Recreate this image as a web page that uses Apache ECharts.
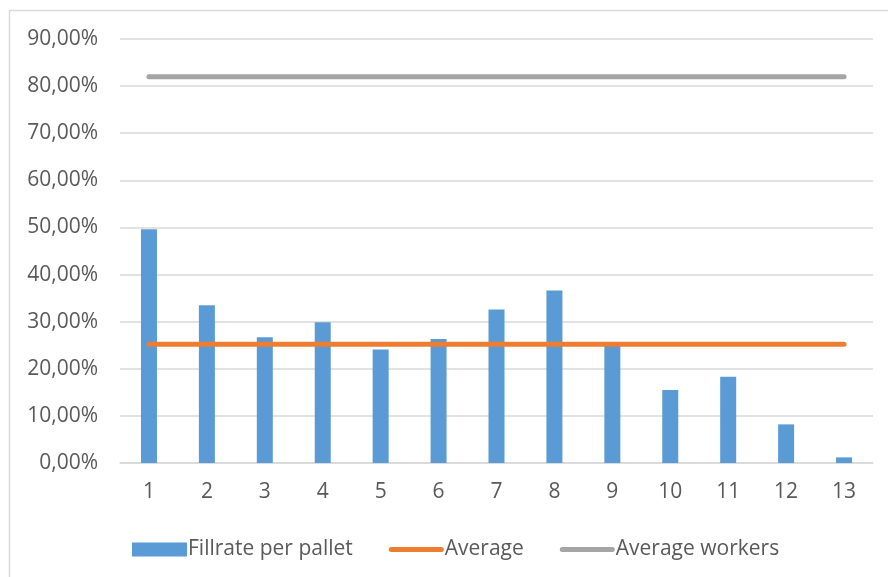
<!DOCTYPE html>
<html>
<head>
<meta charset="utf-8">
<script src="https://cdn.jsdelivr.net/npm/echarts@6/dist/echarts.min.js"></script>
<style>
html,body{margin:0;padding:0;background:#fff;}
#chart{width:888px;height:577px;}
</style>
</head>
<body>
<div id="chart"></div>
<script>
var categories = ['1','2','3','4','5','6','7','8','9','10','11','12','13'];
var fillrate = [0.496, 0.335, 0.267, 0.299, 0.241, 0.263, 0.326, 0.366, 0.250, 0.155, 0.183, 0.082, 0.012];
var average = 0.252;
var averageWorkers = 0.820;

var avgLine = categories.map(function(){ return average; });
var workersLine = categories.map(function(){ return averageWorkers; });

var myChart = echarts.init(document.getElementById('chart'));
var font = 'Open Sans';
// thick rounded line used as legend icon for the two line series
var lineIcon = 'path://M2.5,0 H52.5 A2.5,2.5 0 0 1 52.5,5 H2.5 A2.5,2.5 0 0 1 2.5,0 Z';
var option = {
    color: ['#5B9BD5', '#ED7D31', '#A5A5A5'],
    textStyle: { fontFamily: font },
    graphic: [{
        type: 'rect',
        shape: { x: 9.5, y: 10.5, width: 900, height: 600 },
        style: { fill: 'none', stroke: '#d9d9d9', lineWidth: 1.5 },
        silent: true
    }],
    grid: { left: 120, right: 15, top: 39, bottom: 114 },
    legend: {
        left: 127,
        top: 534,
        itemWidth: 55,
        itemHeight: 14,
        itemGap: 36,
        symbolKeepAspect: true,
        textStyle: { fontFamily: font, fontSize: 21, color: '#595959', padding: [0, 0, 0, -4] },
        data: [
            { name: 'Fillrate per pallet', icon: 'rect' },
            { name: 'Average', icon: lineIcon },
            { name: 'Average workers', icon: lineIcon }
        ]
    },
    xAxis: {
        type: 'category',
        data: categories,
        axisLine: { lineStyle: { color: '#d9d9d9', width: 1.5 } },
        axisTick: { show: false },
        axisLabel: { color: '#595959', fontSize: 21, margin: 19, fontFamily: font }
    },
    yAxis: {
        type: 'value',
        min: 0,
        max: 0.9,
        interval: 0.1,
        axisLine: { show: false },
        axisTick: { show: false },
        splitLine: { lineStyle: { color: '#d9d9d9', width: 1.5 } },
        axisLabel: {
            color: '#595959', fontSize: 21, margin: 22, fontFamily: font,
            formatter: function(v){ return (v * 100).toFixed(2).replace('.', ',') + '%'; }
        }
    },
    series: [
        {
            name: 'Fillrate per pallet',
            type: 'bar',
            barWidth: 16,
            data: fillrate
        },
        {
            name: 'Average',
            type: 'line',
            symbol: 'none',
            lineStyle: { width: 5, cap: 'round' },
            data: avgLine
        },
        {
            name: 'Average workers',
            type: 'line',
            symbol: 'none',
            lineStyle: { width: 5, cap: 'round' },
            data: workersLine
        }
    ]
};
myChart.setOption(option);
</script>
</body>
</html>
